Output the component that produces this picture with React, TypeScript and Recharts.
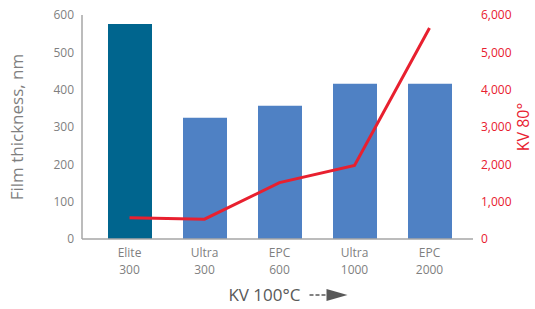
import { ComposedChart, Bar, Line, XAxis, YAxis, Cell } from 'recharts';

const grades = ['Elite 300', 'Ultra 300', 'EPC 600', 'Ultra 1000', 'EPC 2000'];
const thickness = [576, 325, 357, 416, 416];
const kv80 = [570, 530, 1510, 1970, 5650];
const leftTicks = [0, 100, 200, 300, 400, 500, 600];
const rightTicks = [0, 1000, 2000, 3000, 4000, 5000, 6000];

const data = grades.map((g, i) => ({ grade: g, thickness: thickness[i], kv80: kv80[i] }));

const FONT = '"Open Sans", sans-serif';
const GRAY = '#7f7f7f';
const RED = '#e8202f';

function GradeTick({ x, y, payload }: any) {
  const [a, b] = String(payload.value).split(' ');
  return (
    <text x={x} y={y} textAnchor="middle" fill={GRAY} fontSize={12} fontFamily={FONT}>
      <tspan x={x} dy={10}>{a}</tspan>
      <tspan x={x} dy={17}>{b}</tspan>
    </text>
  );
}

function XTitle({ viewBox }: any) {
  const cx = viewBox.x + viewBox.width / 2;
  const y = viewBox.y + 62;
  return (
    <g>
      <text x={cx + 23} y={y} textAnchor="end" fill="#595959" fontSize={17} fontFamily={FONT}>
        KV 100°C
      </text>
      <line x1={cx + 32} x2={cx + 48} y1={y - 6} y2={y - 6} stroke="#595959" strokeWidth={1.5} strokeDasharray="4 2" />
      <polygon points={`${cx + 49},${y - 12} ${cx + 70},${y - 6} ${cx + 49},${y}`} fill="#595959" />
    </g>
  );
}

function LeftTitle({ viewBox }: any) {
  const cy = viewBox.y + viewBox.height / 2;
  return (
    <text x={23} y={cy} transform={`rotate(-90, 23, ${cy})`} textAnchor="middle" fill={GRAY} fontSize={17} fontFamily={FONT}>
      Film thickness, nm
    </text>
  );
}

function RightTitle({ viewBox }: any) {
  const cy = viewBox.y + viewBox.height / 2;
  return (
    <text x={529} y={cy} transform={`rotate(-90, 529, ${cy})`} textAnchor="middle" fill={RED} fontSize={16} fontFamily={FONT}>
      KV 80°
    </text>
  );
}

export default function App() {
  return (
    <div style={{ position: 'absolute', left: 0, top: 0, background: '#fff' }}>
      <ComposedChart width={535} height={309} data={data} margin={{ top: 15, right: 0, bottom: 24, left: 0 }}>
        <XAxis
          dataKey="grade"
          tick={<GradeTick />}
          tickLine={false}
          axisLine={{ stroke: '#a6a6a6', strokeWidth: 1.5 }}
          padding={{ left: 10, right: 6 }}
          height={46}
          interval={0}
          label={<XTitle />}
        />
        <YAxis
          yAxisId="left"
          domain={[0, 600]}
          ticks={leftTicks}
          width={82}
          tickLine={false}
          axisLine={{ stroke: '#a6a6a6', strokeWidth: 1.5 }}
          tick={{ fill: GRAY, fontSize: 12, fontFamily: FONT }}
          label={<LeftTitle />}
        />
        <YAxis
          yAxisId="right"
          orientation="right"
          domain={[0, 6000]}
          ticks={rightTicks}
          width={62}
          tickLine={false}
          axisLine={false}
          tickFormatter={(v: number) => v.toLocaleString('en-US')}
          tick={{ fill: RED, fontSize: 12, fontFamily: FONT, textAnchor: 'start' }}
          label={<RightTitle />}
        />
        <Bar yAxisId="left" dataKey="thickness" barSize={44} isAnimationActive={false}>
          {data.map((d, i) => (
            <Cell key={d.grade} fill={i === 0 ? '#00658e' : '#4f81c4'} />
          ))}
        </Bar>
        <Line
          yAxisId="right"
          type="linear"
          dataKey="kv80"
          stroke={RED}
          strokeWidth={3}
          dot={false}
          activeDot={false}
          isAnimationActive={false}
        />
      </ComposedChart>
    </div>
  );
}
